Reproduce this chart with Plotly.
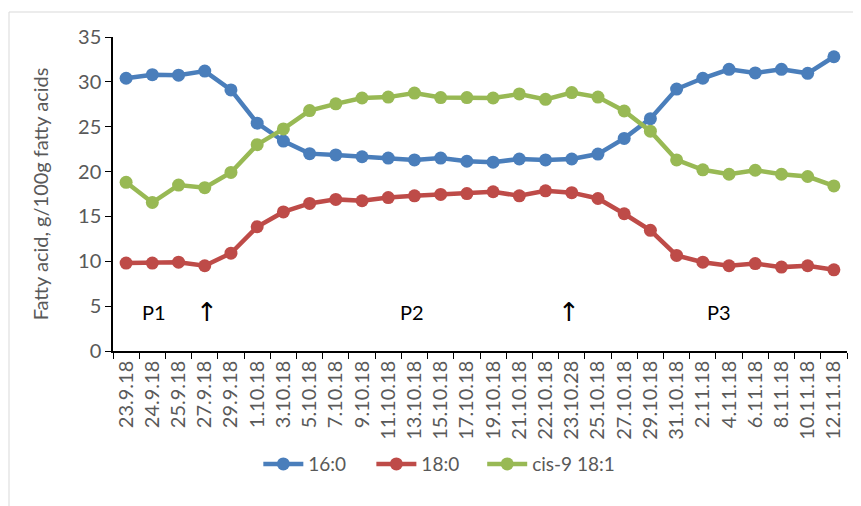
import plotly.graph_objects as go

dates = ["23.9.18", "24.9.18", "25.9.18", "27.9.18", "29.9.18", "1.10.18", "3.10.18",
         "5.10.18", "7.10.18", "9.10.18", "11.10.18", "13.10.18", "15.10.18", "17.10.18",
         "19.10.18", "21.10.18", "22.10.18", "23.10.28", "25.10.18", "27.10.18", "29.10.18",
         "31.10.18", "2.11.18", "4.11.18", "6.11.18", "8.11.18", "10.11.18", "12.11.18"]

fa_16_0 = [30.4, 30.8, 30.75, 31.2, 29.1, 25.4, 23.4, 22.0, 21.85, 21.65, 21.5, 21.3, 21.5, 21.15,
           21.05, 21.4, 21.3, 21.4, 21.95, 23.7, 25.9, 29.2, 30.4, 31.4, 31.0, 31.4, 30.95, 32.8]
fa_18_0 = [9.8, 9.8, 9.9, 9.5, 10.9, 13.85, 15.5, 16.45, 16.9, 16.75, 17.1, 17.3, 17.45, 17.55,
           17.75, 17.3, 17.85, 17.65, 17.0, 15.3, 13.45, 10.65, 9.9, 9.5, 9.75, 9.35, 9.5, 9.05]
fa_cis9_18_1 = [18.8, 16.55, 18.5, 18.2, 19.9, 23.0, 24.75, 26.8, 27.55, 28.2, 28.3, 28.75, 28.25, 28.25,
                28.2, 28.65, 28.05, 28.8, 28.3, 26.75, 24.5, 21.3, 20.2, 19.7, 20.15, 19.7, 19.45, 18.4]

series_names = ["16:0", "18:0", "cis-9 18:1"]
series_values = [fa_16_0, fa_18_0, fa_cis9_18_1]
series_colors = ["#4A7EBB", "#BE4B48", "#98B954"]

period_labels = ["P1", "\u2191", "P2", "\u2191", "P3"]
period_x = [1.05, 3.1, 10.9, 16.9, 22.6]
period_y = 4.4

FONT = "Lato"
GRAY = "#595959"
FS = 20

legend_ids = ["legend", "legend2", "legend3"]
legend_x = [0.198, 0.352, 0.503]

fig = go.Figure()
for name, vals, col, lid in zip(series_names, series_values, series_colors, legend_ids):
    fig.add_trace(go.Scatter(
        x=dates, y=vals, name=name, mode="lines+markers",
        line=dict(color=col, width=4.5),
        marker=dict(color=col, size=13),
        legend=lid,
    ))

for lab, px in zip(period_labels, period_x):
    is_arrow = lab == "\u2191"
    fig.add_annotation(
        x=px, y=period_y, xref="x", yref="y", text=lab, showarrow=False,
        font=dict(family="DejaVu Sans" if is_arrow else FONT, size=26 if is_arrow else FS,
                  color="#000000"),
    )

legend_common = dict(orientation="h", xanchor="left", y=-0.36, yanchor="middle",
                     font=dict(family=FONT, size=19, color=GRAY), itemwidth=40,
                     bgcolor="rgba(0,0,0,0)")

# page body has an 8px default margin, so the figure is offset by (8, 8)
fig.update_layout(
    width=861, height=506,
    paper_bgcolor="white", plot_bgcolor="white",
    margin=dict(l=105, r=22, t=29, b=163, autoexpand=False),
    font=dict(family=FONT, size=FS, color=GRAY),
    showlegend=True,
    legend=dict(x=legend_x[0], **legend_common),
    legend2=dict(x=legend_x[1], **legend_common),
    legend3=dict(x=legend_x[2], **legend_common),
    shapes=[dict(type="rect", xref="paper", yref="paper",
                 x0=-104 / 734, x1=1.2, y0=-0.7, y1=1 + 25 / 314,
                 line=dict(color="#D9D9D9", width=1), fillcolor="rgba(0,0,0,0)", layer="below")],
)

fig.update_xaxes(
    type="category", tickangle=-90, showgrid=False, showline=True, linecolor="#000000",
    linewidth=1.5, ticks="outside", ticklen=6, tickcolor="#000000", tickson="boundaries",
    tickfont=dict(family=FONT, size=FS, color=GRAY), range=[-0.5, len(dates) - 0.5],
    automargin=False,
)
fig.update_yaxes(
    range=[0, 35], dtick=5, showgrid=False, showline=True, linecolor="#000000", linewidth=1.5,
    ticks="outside", ticklen=6, tickcolor="#000000", zeroline=False,
    tickfont=dict(family=FONT, size=FS, color=GRAY), automargin=False,
    title=dict(text="Fatty acid, g/100g fatty acids", font=dict(family=FONT, size=FS, color=GRAY),
               standoff=24),
)

fig.write_html("out.html")
